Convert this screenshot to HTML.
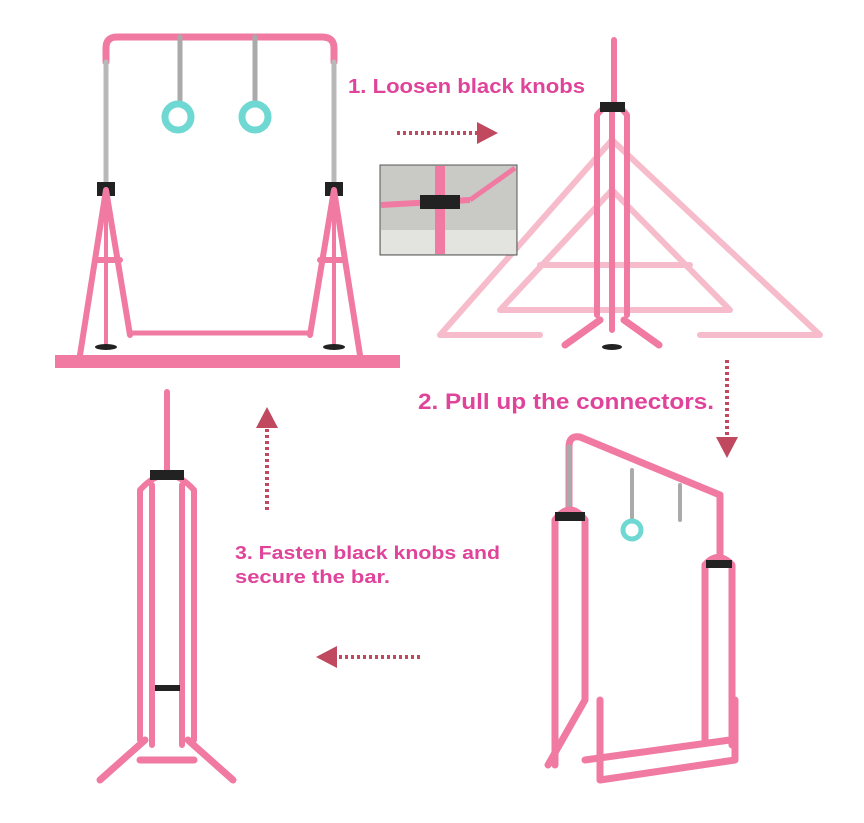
<!DOCTYPE html>
<html><head><meta charset="utf-8"><style>
html,body{margin:0;padding:0;background:#fff;width:864px;height:823px;overflow:hidden}
svg{display:block}
text{font-family:"Liberation Sans",sans-serif;font-weight:bold;fill:#e0449a}
</style></head><body>
<svg width="864" height="823" viewBox="0 0 864 823" xmlns="http://www.w3.org/2000/svg">
<g fill="none" stroke-linecap="round" stroke-linejoin="round">
<path d="M106,62 V48 Q106,37 117,37 H322 Q334,37 334,48 V62" stroke="#f07aa2" stroke-width="7"/>
<line x1="106" y1="62" x2="106" y2="185" stroke="#b8b8b8" stroke-width="5"/>
<line x1="334" y1="62" x2="334" y2="185" stroke="#b8b8b8" stroke-width="5"/>
<rect x="97" y="182" width="18" height="14" fill="#222" stroke="none"/>
<rect x="325" y="182" width="18" height="14" fill="#222" stroke="none"/>
<path d="M106,190 L80,355 M106,190 L130,335 M95,260 L120,260" stroke="#f07aa2" stroke-width="6"/>
<path d="M334,190 L360,355 M334,190 L310,335 M320,260 L345,260" stroke="#f07aa2" stroke-width="6"/>
<line x1="130" y1="333" x2="310" y2="333" stroke="#f07aa2" stroke-width="5"/>
<line x1="106" y1="200" x2="106" y2="345" stroke="#f07aa2" stroke-width="4"/>
<line x1="334" y1="200" x2="334" y2="345" stroke="#f07aa2" stroke-width="4"/>
<ellipse cx="106" cy="347" rx="11" ry="3" fill="#222" stroke="none"/>
<ellipse cx="334" cy="347" rx="11" ry="3" fill="#222" stroke="none"/>
<rect x="55" y="355" width="345" height="13" fill="#f07aa2" stroke="none"/>
<line x1="180" y1="37" x2="180" y2="100" stroke="#aaa" stroke-width="5"/>
<line x1="255" y1="37" x2="255" y2="100" stroke="#aaa" stroke-width="5"/>
<circle cx="178" cy="117" r="13" stroke="#6fd8d2" stroke-width="7"/>
<circle cx="255" cy="117" r="13" stroke="#6fd8d2" stroke-width="7"/>
<g stroke="#f7bccc" stroke-width="6">
<path d="M612,140 L440,335 M612,140 L820,335 M612,190 L500,310 M612,190 L730,310 M540,265 L690,265 M500,310 L730,310 M440,335 L540,335 M700,335 L820,335"/>
</g>
<path d="M614,40 V105" stroke="#f07aa2" stroke-width="6"/>
<path d="M612,105 V330 M597,115 V315 M627,115 V315 M597,115 Q612,95 627,115" stroke="#f07aa2" stroke-width="6"/>
<path d="M600,320 L565,345 M624,320 L659,345" stroke="#f07aa2" stroke-width="7"/>
<rect x="600" y="102" width="25" height="10" fill="#222" stroke="none"/>
<ellipse cx="612" cy="347" rx="10" ry="3" fill="#222" stroke="none"/>
<path d="M569,510 V447 Q569,435 580,437 L720,495 V560" stroke="#f07aa2" stroke-width="7"/>
<line x1="569" y1="447" x2="569" y2="510" stroke="#aaa" stroke-width="5"/>
<path d="M555,520 Q570,500 585,520 V700 M555,520 V765 M548,765 L585,700" stroke="#f07aa2" stroke-width="7"/>
<path d="M705,565 Q718,550 732,565 V745 M705,565 V740 M585,760 L730,740 M600,780 L735,760 M600,780 V700 M735,760 V700" stroke="#f07aa2" stroke-width="7"/>
<rect x="555" y="512" width="30" height="9" fill="#222" stroke="none"/>
<rect x="706" y="560" width="26" height="8" fill="#222" stroke="none"/>
<line x1="632" y1="470" x2="632" y2="520" stroke="#aaa" stroke-width="4"/>
<line x1="680" y1="485" x2="680" y2="520" stroke="#aaa" stroke-width="4"/>
<circle cx="632" cy="530" r="9" stroke="#6fd8d2" stroke-width="5"/>
<path d="M167,392 V470" stroke="#f07aa2" stroke-width="6"/>
<path d="M152,485 V745 M182,485 V745 M140,490 V740 M194,490 V740 M140,490 Q167,460 194,490" stroke="#f07aa2" stroke-width="6"/>
<path d="M145,740 L100,780 M188,740 L233,780 M140,760 L194,760" stroke="#f07aa2" stroke-width="7"/>
<rect x="150" y="470" width="34" height="10" fill="#222" stroke="none"/>
<rect x="155" y="685" width="25" height="6" fill="#222" stroke="none"/>
<g stroke="#c0485f" stroke-width="4" stroke-dasharray="3,3" stroke-linecap="butt">
<line x1="397" y1="133" x2="478" y2="133"/>
<line x1="727" y1="360" x2="727" y2="440"/>
<line x1="420" y1="657" x2="335" y2="657"/>
<line x1="267" y1="510" x2="267" y2="425"/>
</g>
<g fill="#c0485f" stroke="none">
<path d="M477,122 L498,133 L477,144 z"/>
<path d="M716,437 L727,458 L738,437 z"/>
<path d="M337,646 L316,657 L337,668 z"/>
<path d="M256,428 L267,407 L278,428 z"/>
</g>
</g>
<rect x="380" y="165" width="137" height="90" fill="#c9c9c6" stroke="#555" stroke-width="1"/>
<rect x="381" y="230" width="135" height="24" fill="#e3e3e0"/>
<line x1="440" y1="166" x2="440" y2="254" stroke="#f07aa2" stroke-width="10"/>
<line x1="381" y1="205" x2="470" y2="200" stroke="#f07aa2" stroke-width="6"/>
<line x1="470" y1="200" x2="515" y2="168" stroke="#f07aa2" stroke-width="5"/>
<rect x="420" y="195" width="40" height="14" fill="#222"/>
<text x="348" y="93" font-size="20" textLength="237" lengthAdjust="spacingAndGlyphs">1. Loosen black knobs</text>
<text x="418" y="409" font-size="22" textLength="296" lengthAdjust="spacingAndGlyphs">2. Pull up the connectors.</text>
<text x="235" y="559" font-size="18" textLength="265" lengthAdjust="spacingAndGlyphs">3. Fasten black knobs and</text>
<text x="235" y="583" font-size="18" textLength="155" lengthAdjust="spacingAndGlyphs">secure the bar.</text>
</svg>
</body></html>
